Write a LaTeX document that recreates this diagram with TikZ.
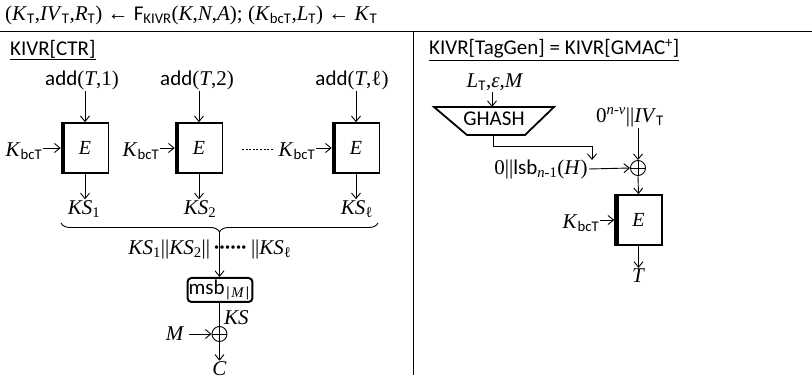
\documentclass[tikz,border=0pt]{standalone}
\usepackage{fontspec}
\setmainfont{Liberation Serif}
\setsansfont{Carlito}
\usetikzlibrary{arrows.meta,decorations.pathreplacing}
\newcommand\mi[1]{\textit{#1}}
\newcommand\sbs[1]{\textsubscript{\sffamily #1}}
\begin{document}
\begin{tikzpicture}[x=1pt,y=-1pt,
  font=\fontsize{21}{25}\selectfont,
  arr/.style={-{Straight Barb[length=5.5pt,width=9pt]}, line width=0.9pt},
  ebox/.style={draw, line width=1.6pt, minimum width=47pt, minimum height=50pt, inner sep=0pt,
    font=\fontsize{20}{24}\selectfont\itshape,
    path picture={\fill (path picture bounding box.north west) rectangle ([xshift=3.5pt]path picture bounding box.south west);}},
  xor/.style={circle, draw, line width=0.9pt, minimum size=15pt, inner sep=0pt,
    path picture={\draw[line width=0.9pt] (path picture bounding box.north) -- (path picture bounding box.south) (path picture bounding box.west) -- (path picture bounding box.east);}},
  lbl/.style={inner sep=1pt},
  title/.style={inner sep=1pt, anchor=west, font=\fontsize{21}{25}\selectfont\sffamily},
  rule/.style={line width=1pt}]
\useasboundingbox (0,0) rectangle (812,379);

% header
\node[lbl, anchor=west] (hdr) at (4,15) {(\mi{K}\sbs{T},\mi{IV}\sbs{T},\mi{R}\sbs{T}) ← {\sffamily F}\sbs{KIVR}(\mi{K},\mi{N},\mi{A}); (\mi{K}\sbs{bcT},\mi{L}\sbs{T}) ← \mi{K}\sbs{T}};
\coordinate (hl) at (0,32);
\coordinate (hr) at (812,32);
\coordinate (vt) at (413,32);
\coordinate (vb) at (413,375);
\draw[rule] (hl) -- (hr);
\draw[rule] (vt) -- (vb);

% ---------- left panel ----------
\node[title] (t1) at (9,50) {\underline{KIVR[CTR]}};

\node[ebox] (e1) at (85,148) {E};
\node[ebox] (e2) at (199,148) {E};
\node[ebox] (e3) at (356,148) {E};

\node[lbl] (a1) at (82,80) {{\sffamily add}(\mi{T},1)};
\node[lbl] (a2) at (197,80) {{\sffamily add}(\mi{T},2)};
\node[lbl] (a3) at (352,80) {{\sffamily add}(\mi{T},ℓ)};
\foreach \i in {1,2,3}{\draw[arr] (e\i.north |- a\i.south) -- (e\i.north);}

\node[lbl] (k1) at (24,151) {\mi{K}\sbs{bcT}};
\node[lbl] (k2) at (141,151) {\mi{K}\sbs{bcT}};
\node[lbl] (k3) at (297,151) {\mi{K}\sbs{bcT}};
\foreach \i in {1,2,3}{\draw[arr] (k\i.east |- e\i.west) -- (e\i.west);}
\coordinate (d1) at (242,149);
\coordinate (d2) at (274,149);
\draw[line width=0.8pt, dash pattern=on 2pt off 1.6pt] (d1) -- (d2);

\node[lbl] (s1) at (84,209) {\mi{KS}\textsubscript{1}};
\node[lbl] (s2) at (200,209) {\mi{KS}\textsubscript{2}};
\node[lbl] (s3) at (357,209) {\mi{KS}\textsubscript{ℓ}};
\foreach \i in {1,2,3}{\draw[arr] (e\i.south) -- (e\i.south |- s\i.north);}

\coordinate (bl) at (61,223);
\coordinate (br) at (378,223);
\coordinate (bt) at (219.5,232);
\draw[line width=0.9pt, decorate, decoration={brace, mirror, amplitude=9pt}] (bl) -- (br);

\node[lbl] (cat) at (210,249) {\mi{KS}\textsubscript{1}||\mi{KS}\textsubscript{2}||\,\textbf{\kern-0.5pt·\kern-1.5pt·\kern-1.5pt·\kern-1.5pt·\kern-1.5pt·\kern-1.5pt·}\,||\mi{KS}\textsubscript{ℓ}};

\node[draw, line width=2pt, rounded corners=4pt, minimum width=59pt, minimum height=24pt, inner sep=1pt, font=\fontsize{21}{25}\selectfont\sffamily] (msb) at (220,290) {msb\textsubscript{|\mi{\rmfamily M}|}};
\draw[arr] (bt) -- (msb.north -| bt);

\node[xor] (x1) at (219.5,334) {};
\draw[line width=0.9pt] (msb.south -| x1.north) -- (x1.north);
\node[lbl, anchor=west] (ks) at (223,318) {\mi{KS}};
\node[lbl] (m) at (175,334) {\mi{M}};
\draw[arr] ([xshift=4pt]m.east) -- (x1.west);
\node[lbl] (c) at (219.5,369) {\mi{C}};
\draw[arr] (x1.south) -- (c.north);

% ---------- right panel ----------
\node[title] (t2) at (428,50) {\underline{KIVR[TagGen] = KIVR[GMAC\textsuperscript{+}]}};

\node[lbl] (lin) at (495,82) {\mi{L}\sbs{T},\mi{ε},\mi{M}};
\coordinate (g1) at (434,107);
\coordinate (g2) at (554,107);
\coordinate (g3) at (525,135);
\coordinate (g4) at (467,135);
\draw[line width=1.8pt, line join=miter] (g1) -- (g2) -- (g3) -- (g4) -- cycle;
\node[inner sep=0pt, font=\fontsize{21}{25}\selectfont\sffamily] (gh) at (494,119) {GHASH};
\coordinate (gin) at (492,107);
\draw[arr] (gin |- lin.south) -- (gin);

\node[lbl] (lsb) at (541,169) {0||{\sffamily lsb}\textsubscript{\mi{n}-1}(\mi{H})};
\coordinate (gout) at (493,135);
\coordinate (lsbin) at (592,160);
\draw[arr] (gout) |- (592,146) -- (lsbin);

\node[xor] (x2) at (638,168) {};
\draw[arr] (lsb.east) -- (x2.west);
\node[lbl] (ivn) at (630,117) {0\textsuperscript{\mi{n}-\mi{ν}}||\mi{IV}\sbs{T}};
\draw[arr] (x2.north |- ivn.south) -- (x2.north);

\node[ebox] (e4) at (638.5,220) {E};
\draw[arr] (x2.south) -- (e4.north);
\node[lbl] (k4) at (581,223) {\mi{K}\sbs{bcT}};
\draw[arr] (k4.east |- e4.west) -- (e4.west);
\node[lbl] (tout) at (638.5,276) {\mi{T}};
\draw[arr] (e4.south) -- (tout.north);
\end{tikzpicture}
\end{document}
